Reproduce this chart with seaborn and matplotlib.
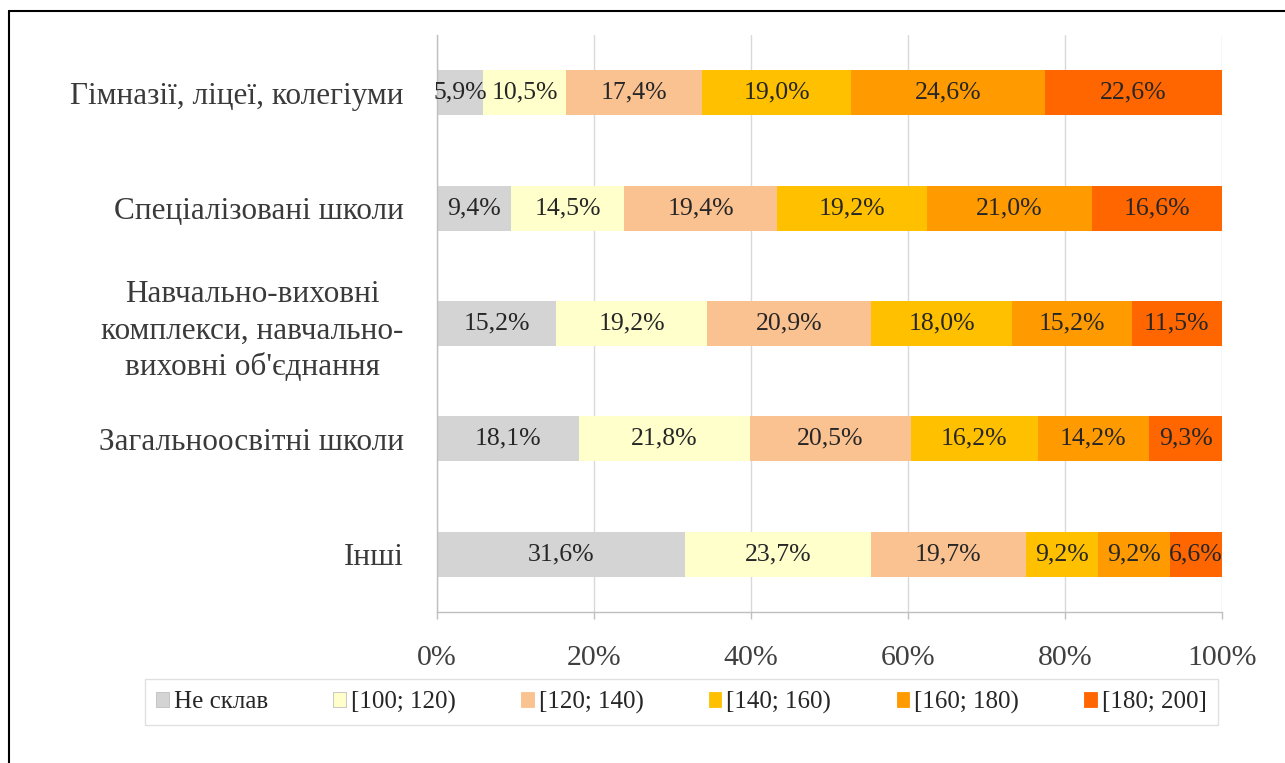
import numpy as np
import pandas as pd
import matplotlib
matplotlib.use("Agg")
import matplotlib.pyplot as plt
import seaborn as sns
from matplotlib.lines import Line2D
from matplotlib.patches import Patch

# Data (share of graduates by score band, %)
categories = [
    "Гімназії, ліцеї, колегіуми",
    "Спеціалізовані школи",
    "Навчально-виховні\nкомплекси, навчально-\nвиховні об'єднання",
    "Загальноосвітні школи",
    "Інші",
]
series_names = ["Не склав", "[100; 120)", "[120; 140)", "[140; 160)", "[160; 180)", "[180; 200]"]
ne_sklav = [5.9, 9.4, 15.2, 18.1, 31.6]
b100_120 = [10.5, 14.5, 19.2, 21.8, 23.7]
b120_140 = [17.4, 19.4, 20.9, 20.5, 19.7]
b140_160 = [19.0, 19.2, 18.0, 16.2, 9.2]
b160_180 = [24.6, 21.0, 15.2, 14.2, 9.2]
b180_200 = [22.6, 16.6, 11.5, 9.3, 6.6]
x_ticks = [0, 20, 40, 60, 80, 100]

colors = ["#D4D4D4", "#FFFFCC", "#FAC191", "#FFC000", "#FF9A00", "#FF6600"]

sns.set_theme(style="white")
plt.rcParams["font.family"] = ["Liberation Serif", "DejaVu Serif"]

df = pd.DataFrame(
    np.array([ne_sklav, b100_120, b120_140, b140_160, b160_180, b180_200]).T,
    columns=series_names,
)
df["category"] = categories
vals = df[series_names]
shares = vals.div(vals.sum(axis=1), axis=0) * 100  # 100% stacked
cum = shares.cumsum(axis=1)

fig = plt.figure(figsize=(12.85, 7.63), dpi=100)
ax = fig.add_axes([437 / 1285, 1 - 612 / 763, (1222 - 437) / 1285, (612 - 35) / 763])

# draw stacked bars back to front so each cumulative bar covers the next
for name, c in reversed(list(zip(series_names, colors))):
    sns.barplot(x=cum[name], y=df["category"], orient="h", color=c,
                saturation=1, width=0.39, linewidth=0, ax=ax, zorder=2)

# data labels
for i in range(len(categories)):
    left = 0
    for name in series_names:
        w = shares.loc[i, name]
        txt = f"{vals.loc[i, name]:.1f}".replace(".", ",") + "%"
        ax.text(left + w / 2, i, txt, ha="center", va="center",
                fontsize=18.5, color="#262626", clip_on=False, zorder=3)
        left += w

ax.set_xlim(0, 100)
ax.set_ylim(len(categories) - 0.5, -0.5)
ax.set_xticks(x_ticks)
ax.set_xticklabels([f"{t}%" for t in x_ticks], fontsize=21.5, color="#404040")
ax.set_xlabel("")
ax.set_ylabel("")
ax.grid(axis="x", color="#D9D9D9", linewidth=1, zorder=0)
ax.set_axisbelow(True)
for s in ["top", "right"]:
    ax.spines[s].set_visible(False)
for s in ["left", "bottom"]:
    ax.spines[s].set_color("#BFBFBF")
    ax.spines[s].set_linewidth(1)
ax.tick_params(axis="x", length=5, width=1, color="#BFBFBF", pad=19, direction="out", bottom=True)
ax.tick_params(axis="y", length=0, pad=24)
for lab in ax.get_yticklabels():
    lab.set_fontsize(22.5)
    lab.set_color("#3A3A3A")
    lab.set_multialignment("center")
    lab.set_linespacing(1.35)

# legend
handles = [Patch(facecolor=c, edgecolor="#BFBFBF" if c in colors[:2] else c,
                 linewidth=0.6) for c in colors]
fig.legend(handles, series_names, loc="lower left",
           bbox_to_anchor=(145 / 1285, (763 - 725) / 763, (1218 - 145) / 1285, 45 / 763),
           mode="expand", ncol=6, frameon=True, fancybox=False, edgecolor="#D9D9D9",
           fontsize=18, handlelength=0.5, handleheight=0.5, handletextpad=0.2,
           borderaxespad=0, borderpad=0.45, labelcolor="#262626")

# outer border of the cropped chart frame
fig.add_artist(Line2D([9 / 1285, 9 / 1285], [0, 1 - 11 / 763], color="black", lw=1.5,
                      transform=fig.transFigure))
fig.add_artist(Line2D([9 / 1285, 1], [1 - 11 / 763, 1 - 11 / 763], color="black", lw=1.5,
                      transform=fig.transFigure))

fig.savefig("out.png", dpi=100, facecolor="white")
